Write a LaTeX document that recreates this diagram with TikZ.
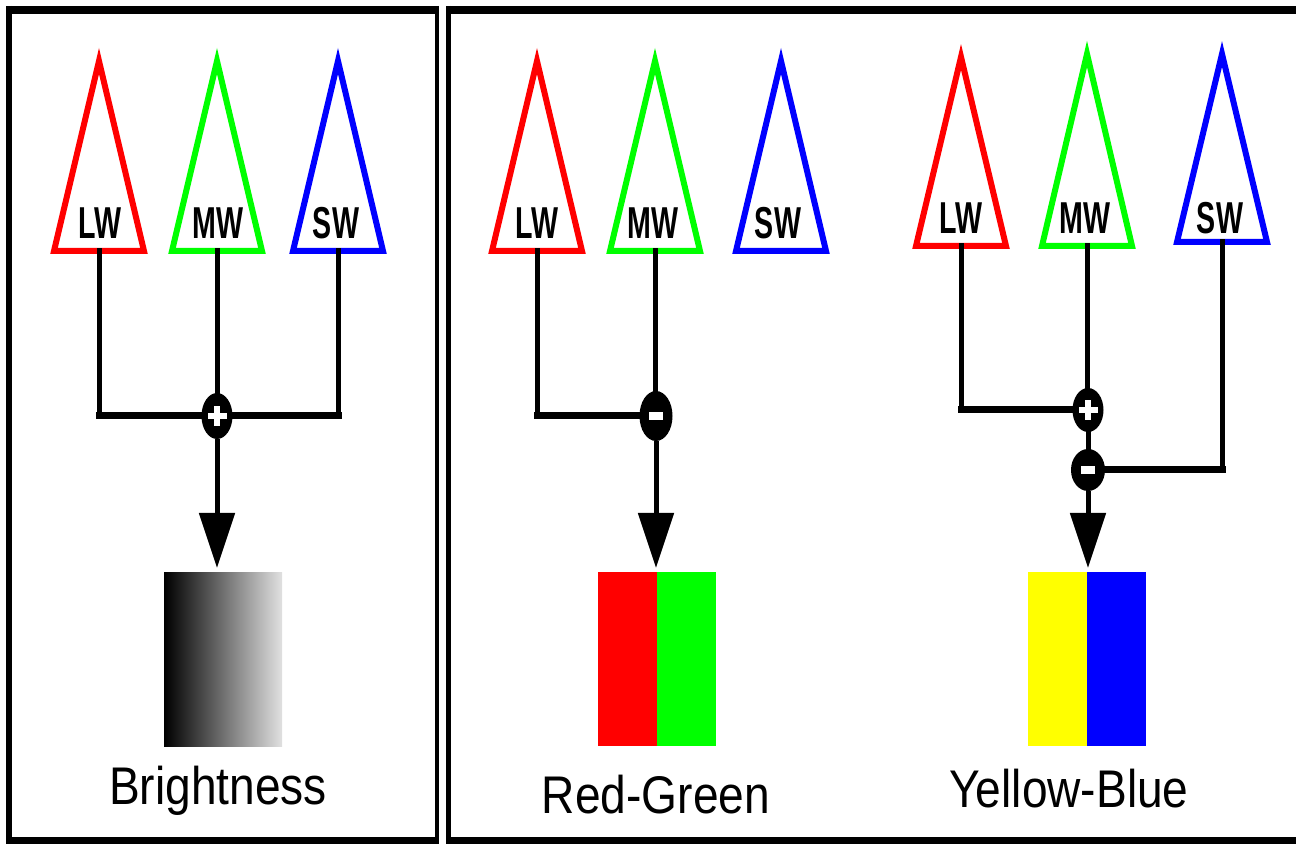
\documentclass[tikz,border=0pt]{standalone}
\usepackage{fontspec}
\setmainfont{Liberation Sans}
\usetikzlibrary{shapes.geometric,arrows.meta}
\definecolor{cR}{RGB}{255,0,0}
\definecolor{cG}{RGB}{0,255,0}
\definecolor{cB}{RGB}{0,0,255}
\definecolor{cY}{RGB}{255,255,0}
\newcommand\cone[5]{%
  \draw[cone,draw=#5] (#2,#3) -- ({#2-45},#4) -- ({#2+45},#4) -- cycle;
  \coordinate (#1) at (#2,#4);}
\begin{document}
\begin{tikzpicture}[x=0.5pt,y=-0.5pt,
  cone/.style={line width=3pt, line join=miter, fill=white},
  vl/.style={line width=2.5pt, line cap=rect},
  hl/.style={line width=3.5pt, line cap=rect},
  sum/.style={ellipse, fill=black, draw=none, minimum width=15.5pt, minimum height=23pt, inner sep=0pt},
  lbl/.style={anchor=base, inner sep=0pt, font=\fontsize{22.35pt}{24pt}\selectfont\bfseries},
  ttl/.style={anchor=base, inner sep=0pt, font=\fontsize{26.5pt}{28pt}\selectfont},
  halfbar/.style={minimum width=29.5pt, minimum height=87pt, inner sep=0pt, draw=none, anchor=north},
  arr/.style={line width=2.5pt, -{Triangle[width=17.5pt,length=27.5pt]}, shorten >=2pt},
  side/.style={line width=3pt}
]
\clip (0,0) rectangle (1296,844);
\fill[white] (0,0) rectangle (1296,844);
% frames
\draw[line width=4pt] (6,10) -- (439,10);
\draw[line width=3.5pt] (6,840.5) -- (439,840.5);
\draw[side] (9,6) -- (9,844);
\draw[line width=2.25pt] (437,6) -- (437,844);
\draw[line width=4pt] (446,10) -- (1310,10);
\draw[line width=3.5pt] (446,840.5) -- (1310,840.5);
\draw[line width=2.5pt] (448.5,6) -- (448.5,844);

% ---------- Brightness ----------
\cone{aL}{99}{61}{251}{cR}
\cone{aM}{217}{61}{251}{cG}
\cone{aS}{338}{61}{251}{cB}
\node[lbl] (taL) at (100,239) {\scalebox{0.64}[1]{LW}};
\node[lbl] (taM) at (218,239) {\scalebox{0.64}[1]{MW}};
\node[lbl] (taS) at (336,239) {\scalebox{0.64}[1]{SW}};
\node[sum] (s1) at (217,416) {};
\draw[vl] (aL) -- (aL |- s1);
\draw[hl] (aL |- s1) -- (s1);
\draw[vl] (aS) -- (aS |- s1);
\draw[hl] (aS |- s1) -- (s1);
\draw[vl] (aM) -- (s1);
\fill[white] ([shift={(-9.5,-3)}]s1.center) rectangle ([shift={(9.5,3)}]s1.center);
\fill[white] ([shift={(-3,-10)}]s1.center) rectangle ([shift={(3,10)}]s1.center);
\node[minimum width=59pt, minimum height=87pt, inner sep=0pt, anchor=north,
      left color=black, right color=black!12] (b1) at (223,572) {};
\draw[arr] (s1) -- (s1 |- b1.north);
\node[ttl] (t1) at (218,804) {\scalebox{0.87}[1]{Brightness}};

% ---------- Red-Green ----------
\cone{bL}{537}{61}{251}{cR}
\cone{bM}{655}{61}{251}{cG}
\cone{bS}{781}{61}{251}{cB}
\node[lbl] (tbL) at (537,239) {\scalebox{0.64}[1]{LW}};
\node[lbl] (tbM) at (653,239) {\scalebox{0.64}[1]{MW}};
\node[lbl] (tbS) at (778,239) {\scalebox{0.64}[1]{SW}};
\node[sum, minimum width=16.5pt, minimum height=25pt] (s2) at (656,416) {};
\draw[vl] (bL) -- (bL |- s2);
\draw[hl] (bL |- s2) -- (s2);
\draw[vl] (bM) -- (bM |- s2.north);
\fill[white] ([shift={(-7,-4)}]s2.center) rectangle ([shift={(7,4)}]s2.center);
\node[halfbar, fill=cR, anchor=north east] (b2L) at (657,572) {};
\node[halfbar, fill=cG, anchor=north west] (b2R) at (657,572) {};
\draw[arr] (s2) -- (s2 |- b2L.north);
\node[ttl] (t2) at (656,813) {\scalebox{0.87}[1]{Red-Green}};

% ---------- Yellow-Blue ----------
\cone{cL}{961}{57}{246}{cR}
\cone{cM}{1087}{54}{246}{cG}
\cone{cS}{1222}{54}{242}{cB}
\node[lbl] (tcL) at (961,234) {\scalebox{0.64}[1]{LW}};
\node[lbl] (tcM) at (1085,234) {\scalebox{0.64}[1]{MW}};
\node[lbl] (tcS) at (1220,234) {\scalebox{0.64}[1]{SW}};
\node[sum, minimum height=22pt] (s3) at (1088,410) {};
\node[sum, minimum width=17pt, minimum height=21pt] (s4) at (1088,470) {};
\draw[vl] (cL) -- (cL |- s3);
\draw[hl] (cL |- s3) -- (s3);
\draw[vl] (cM) -- (cM |- s3.north);
\draw[vl] (s3) -- (s4);
\draw[vl] (cS) -- (cS |- s4);
\draw[hl] (cS |- s4) -- (s4);
\fill[white] ([shift={(-9.5,-3)}]s3.center) rectangle ([shift={(9.5,3)}]s3.center);
\fill[white] ([shift={(-3,-10)}]s3.center) rectangle ([shift={(3,10)}]s3.center);
\fill[white] ([shift={(-7,-4)}]s4.center) rectangle ([shift={(7,4)}]s4.center);
\node[halfbar, fill=cY, anchor=north east] (b3L) at (1087,572) {};
\node[halfbar, fill=cB, anchor=north west] (b3R) at (1087,572) {};
\draw[arr] (s4) -- (s4 |- b3L.north);
\node[ttl] (t3) at (1069,807) {\scalebox{0.87}[1]{Yellow-Blue}};
\end{tikzpicture}
\end{document}
